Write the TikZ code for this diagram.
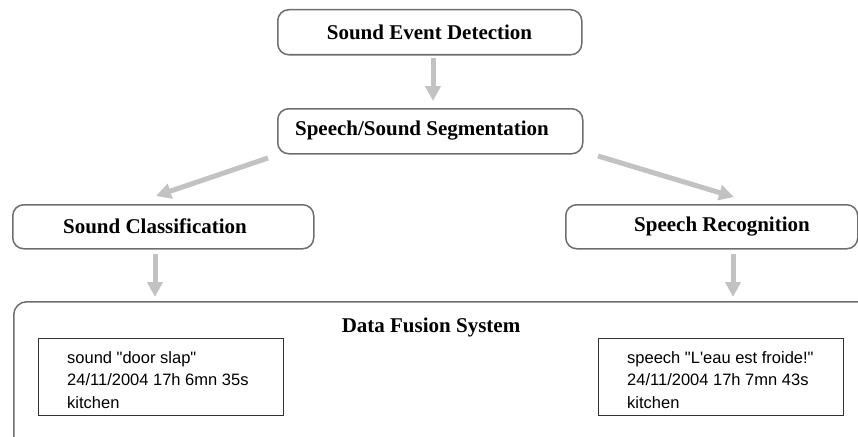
\documentclass[tikz,border=0pt]{standalone}
\usepackage{fontspec}
\setmainfont{Liberation Serif}
\newfontfamily\helv{Liberation Sans}
\usetikzlibrary{arrows.meta}
\definecolor{boxgray}{HTML}{6E6E6E}
\definecolor{arrgray}{HTML}{C2C2C2}
\tikzset{
  stagebox/.style={draw=boxgray, line width=1.5pt, rounded corners=11pt, anchor=north west, inner sep=0pt},
  stagetext/.style={font=\fontsize{21}{24}\selectfont\bfseries, inner sep=0pt},
  flow/.style={draw=arrgray, line width=5pt, -{Triangle[width=15pt,length=15pt]}, shorten >=0pt},
  recbox/.style={draw=black!80, line width=0.9pt, anchor=north west, inner sep=0pt},
  rectext/.style={font=\helv\fontsize{16.5}{22.5}\selectfont, align=left, anchor=north west, inner sep=0pt}
}
\begin{document}
\begin{tikzpicture}[x=1pt,y=-1pt]
\useasboundingbox (0,0) rectangle (858,436);
\clip (0,0) rectangle (858,436);
% stage boxes
\node[stagebox, minimum width=304pt, minimum height=45pt] (sed) at (277,9) {};
\node[stagetext] (sedt) at (429.5,32) {Sound Event Detection};
\node[stagebox, minimum width=305pt, minimum height=45pt] (sss) at (277,108) {};
\node[stagetext] (ssst) at (422,131) {Speech/Sound Segmentation};
\node[stagebox, minimum width=301pt, minimum height=44pt] (sc) at (12,204) {};
\node[stagetext] (sct) at (155,226.5) {Sound Classification};
\node[stagebox, minimum width=292pt, minimum height=44pt] (sr) at (565,204) {};
\node[stagetext] (srt) at (722,226.5) {Speech Recognition};
% data fusion
\node[stagebox, rounded corners=13pt, minimum width=880pt, minimum height=170pt] (dfs) at (13,301) {};
\node[stagetext] (dfst) at (431,327) {Data Fusion System};
% records
\node[recbox, minimum width=245pt, minimum height=77pt] (r1) at (38,338) {};
\node[rectext] (r1t) at (67,351) {sound "door slap"\\24/11/2004 17h 6mn 35s\\kitchen};
\node[recbox, minimum width=245pt, minimum height=77pt] (r2) at (598,338) {};
\node[rectext] (r2t) at (627,351) {speech "L'eau est froide!"\\24/11/2004 17h 7mn 43s\\kitchen};
% arrows
\coordinate (a1s) at (433,58); \coordinate (a1e) at (433,101);
\draw[flow] (a1s) -- (a1e);
\coordinate (a2s) at (268,158); \coordinate (a2e) at (156,196);
\draw[flow] (a2s) -- (a2e);
\coordinate (a3s) at (598,156); \coordinate (a3e) at (734,197);
\draw[flow] (a3s) -- (a3e);
\coordinate (a4s) at (155,254); \coordinate (a4e) at (155,297);
\draw[flow] (a4s) -- (a4e);
\coordinate (a5s) at (733,254); \coordinate (a5e) at (733,297);
\draw[flow] (a5s) -- (a5e);
\end{tikzpicture}
\end{document}
